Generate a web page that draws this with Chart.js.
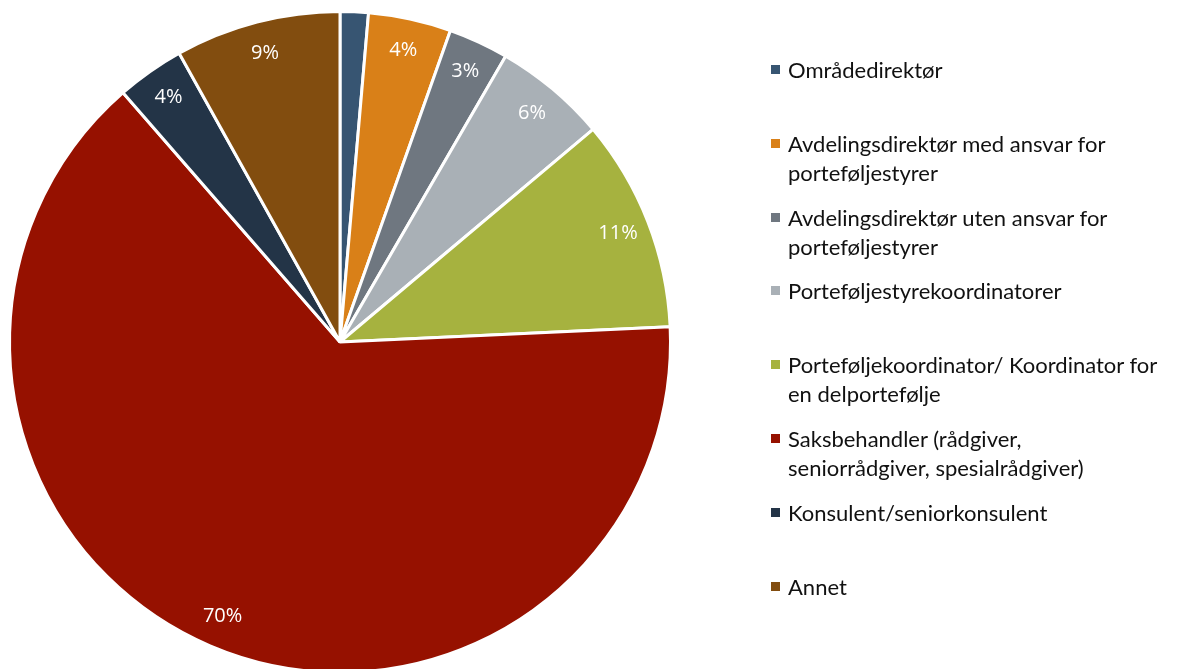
<!DOCTYPE html>
<html lang="no">
<head>
<meta charset="utf-8">
<title>Stillingskategori</title>
<script src="https://cdn.jsdelivr.net/npm/chart.js@4.4.1/dist/chart.umd.min.js"></script>
<style>
  html, body { margin: 0; padding: 0; background: #fff; overflow: hidden; }
  #wrap { position: relative; width: 1180px; height: 669px; overflow: hidden; }
  #pie { position: absolute; left: 0; top: 0; }
  #legend { position: absolute; left: 771px; top: 55px; font-family: Lato, "Open Sans", sans-serif; font-size: 22px; color: #111; }
  .item { position: relative; height: 73.8px; padding-left: 17px; line-height: 29px; white-space: nowrap; }
  .item .box { position: absolute; left: 0; top: 10px; width: 9px; height: 9px; }
</style>
</head>
<body>
<div id="wrap">
  <canvas id="pie" width="1180" height="700"></canvas>
  <div id="legend"></div>
</div>
<script>
// Kategorier (legend), linjeskift som i originalen
const categories = [
  ['Områdedirektør'],
  ['Avdelingsdirektør med ansvar for', 'porteføljestyrer'],
  ['Avdelingsdirektør uten ansvar for', 'porteføljestyrer'],
  ['Porteføljestyrekoordinatorer'],
  ['Porteføljekoordinator/ Koordinator for', 'en delportefølje'],
  ['Saksbehandler (rådgiver,', 'seniorrådgiver, spesialrådgiver)'],
  ['Konsulent/seniorkonsulent'],
  ['Annet']
];
// Andel i prosent (avlest)
const values = [1.5, 4.4, 3.2, 6.0, 11.3, 70.0, 3.6, 8.8];
const colors = ['#375572', '#d98018', '#6f7780', '#a9b0b6', '#a6b23f', '#961100', '#233447', '#824d0f'];

// Prosentetiketter inne i sektorene
const pctLabels = {
  id: 'pctLabels',
  afterDatasetsDraw(chart) {
    const ctx = chart.ctx;
    const meta = chart.getDatasetMeta(0);
    ctx.save();
    ctx.font = '20px "Open Sans", sans-serif';
    ctx.fillStyle = '#ffffff';
    ctx.textAlign = 'center';
    ctx.textBaseline = 'middle';
    meta.data.forEach((arc, i) => {
      const v = values[i];
      if (v < 2) return;
      const p = arc.getProps(['x', 'y', 'startAngle', 'endAngle', 'outerRadius'], true);
      const mid = (p.startAngle + p.endAngle) / 2;
      const r = p.outerRadius - 32;
      ctx.fillText(Math.round(v) + '%', p.x + Math.cos(mid) * r, p.y + Math.sin(mid) * r);
    });
    ctx.restore();
  }
};

new Chart(document.getElementById('pie'), {
  type: 'pie',
  data: {
    labels: categories.map(c => c.join(' ')),
    datasets: [{
      data: values,
      backgroundColor: colors,
      borderColor: '#ffffff',
      borderWidth: 3
    }]
  },
  options: {
    responsive: false,
    animation: false,
    layout: { padding: { left: 8, right: 508, top: 10, bottom: 26 } },
    plugins: {
      legend: { display: false },
      tooltip: { enabled: false }
    }
  },
  plugins: [pctLabels]
});

// HTML-legend
const legend = document.getElementById('legend');
categories.forEach((lines, i) => {
  const item = document.createElement('div');
  item.className = 'item';
  item.innerHTML = '<span class="box" style="background:' + colors[i] + '"></span>' + lines.join('<br>');
  legend.appendChild(item);
});
</script>
</body>
</html>
